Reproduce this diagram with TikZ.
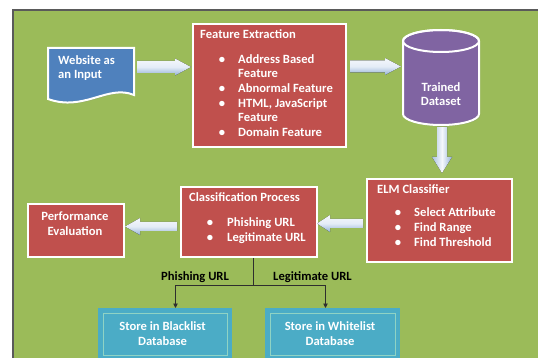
\documentclass[tikz,border=0pt]{standalone}
\usepackage{fontspec}
\setmainfont{Carlito}
\usetikzlibrary{shadows,arrows.meta,calc}

\definecolor{bggreen}{HTML}{9BBB59}
\definecolor{boxred}{HTML}{C0504D}
\definecolor{docblue}{HTML}{4F81BD}
\definecolor{dbpurple}{HTML}{8064A2}
\definecolor{storeteal}{HTML}{4BACC6}
\definecolor{storeline}{HTML}{8FD3C4}
\definecolor{arrowlight}{HTML}{E4ECF7}
\definecolor{arrowdark}{HTML}{95B3D7}
\definecolor{framegray}{HTML}{5A5A5A}
\definecolor{wiregray}{HTML}{2E2E2E}

\tikzset{
  panel/.style={draw=white, line width=2.2pt, fill=boxred, anchor=north west,
    inner sep=0pt, drop shadow={shadow xshift=1.2pt, shadow yshift=-1.2pt, opacity=0.3}},
  storebox/.style={draw=storeteal, line width=5pt, fill=storeteal, anchor=north west,
    inner sep=0pt, double=storeline, double distance=0.9pt},
  label/.style={text=white, inner sep=0pt, anchor=base west},
  centerlabel/.style={text=white, inner sep=0pt, align=center},
  dot/.style={text=white, inner sep=0pt, anchor=base},
  wirelabel/.style={text=black, inner sep=0pt, anchor=base west},
  flatarrow/.style={top color=white!60!arrowlight, bottom color=arrowdark, middle color=arrowlight},
  tallarrow/.style={left color=arrowdark!80!white, right color=arrowdark, middle color=white!60!arrowlight},
  dropwire/.style={draw=wiregray, line width=0.9pt},
  droparrow/.style={dropwire, -{Triangle[width=4.5pt,length=4.5pt]}, shorten >=2.5pt},
}

\begin{document}
\begin{tikzpicture}[x=1pt, y=-1pt, font=\bfseries\fontsize{12.6}{15}\selectfont]
\useasboundingbox (0,0) rectangle (538,358);
\fill[white] (0,0) rectangle (538,358);

% backdrop
\fill[bggreen] (13,10) rectangle (538,358);
\draw[framegray, line width=1.2pt] (13,358) -- (13,10) -- (538,10);

% input document with wavy bottom
\draw[draw=white, line width=2pt, fill=docblue,
      drop shadow={shadow xshift=1.2pt, shadow yshift=-1.2pt, opacity=0.3}]
  (48,48) -- (134,48) -- (134,95)
  .. controls (108,84) and (84,112) .. (48,99) -- cycle;
\node[label] (web1) at (58,65) {Website as};
\node[label] (web2) at (58,79) {an Input};

% feature extraction
\node[panel, minimum width=153pt, minimum height=123pt] (feat) at (192,23) {};
\node[label] (feattitle) at (200,39) {Feature Extraction};
\node[dot] (fd1) at (222,64) {•};
\node[label] (f1a) at (238,64) {Address Based};
\node[label] (f1b) at (238,78) {Feature};
\node[dot] (fd2) at (222,93) {•};
\node[label] (f2) at (238,93) {Abnormal Feature};
\node[dot] (fd3) at (222,108) {•};
\node[label] (f3a) at (238,108) {HTML, JavaScript};
\node[label] (f3b) at (238,122) {Feature};
\node[dot] (fd4) at (222,137) {•};
\node[label] (f4) at (238,137) {Domain Feature};

% trained dataset cylinder
\path[draw=white, line width=2pt, fill=dbpurple,
      drop shadow={shadow xshift=1.2pt, shadow yshift=-1.2pt, opacity=0.3}]
  (403,41) -- (403,114)
  arc[start angle=180, end angle=0, x radius=38, y radius=11]
  -- (479,41)
  arc[start angle=0, end angle=-180, x radius=38, y radius=11] -- cycle;
\draw[white, line width=2pt] (441,41) ellipse[x radius=38, y radius=11];
\node[centerlabel, font=\bfseries\fontsize{12.6}{13.5}\selectfont] (dataset) at (441,94) {Trained\\Dataset};

% ELM classifier
\node[panel, minimum width=145pt, minimum height=83pt] (elm) at (366,178) {};
\node[label] (elmtitle) at (377,194) {ELM Classifier};
\node[dot] (ed1) at (398,217) {•};
\node[label] (e1) at (414,217) {Select Attribute};
\node[dot] (ed2) at (398,232) {•};
\node[label] (e2) at (414,232) {Find Range};
\node[dot] (ed3) at (398,247) {•};
\node[label] (e3) at (414,247) {Find Threshold};

% classification process
\node[panel, minimum width=136pt, minimum height=70pt] (class) at (180,186) {};
\node[label] (classtitle) at (189,202) {Classification Process};
\node[dot] (cd1) at (210,226) {•};
\node[label] (c1) at (227,226) {Phishing URL};
\node[dot] (cd2) at (210,241) {•};
\node[label] (c2) at (227,241) {Legitimate URL};

% performance evaluation
\node[panel, minimum width=96pt, minimum height=53pt] (perf) at (27,203) {};
\node[centerlabel] (perftext) at (75,223.5) {Performance\\Evaluation};

% storage targets
\node[storebox, minimum width=124pt, minimum height=42pt] (black) at (100.5,310.5) {};
\node[centerlabel] (blacktext) at (162.5,333.5) {Store in Blacklist\\Database};
\node[storebox, minimum width=125pt, minimum height=42pt] (white) at (267.5,310.5) {};
\node[centerlabel] (whitetext) at (330,333.5) {Store in Whitelist\\Database};

% block arrows between stages
\fill[flatarrow] (137,61) -- (175,61) -- (175,58.5) -- (191,67)
  -- (175,75.5) -- (175,73) -- (137,73) -- cycle;
\fill[flatarrow] (350,60.5) -- (385,60.5) -- (385,58) -- (401,66.5)
  -- (385,75) -- (385,72.5) -- (350,72.5) -- cycle;
\fill[tallarrow] (437,127) -- (447,127) -- (447,157) -- (452,157) -- (442,173)
  -- (432,157) -- (437,157) -- cycle;
\fill[flatarrow] (363,219) -- (330,219) -- (330,215) -- (317,223.5)
  -- (330,232) -- (330,228) -- (363,228) -- cycle;
\fill[flatarrow] (177,222) -- (140,222) -- (140,218) -- (125,226.5)
  -- (140,235) -- (140,231) -- (177,231) -- cycle;

% split of the classification result
\coordinate (split) at (253,285);
\draw[dropwire] (class.south -| split) -- (split);
\draw[droparrow] (split) -| ([xshift=10.5pt]black.north);
\draw[droparrow] (split) -| ([xshift=-7pt]white.north);
\node[wirelabel] (phish) at (161,280) {Phishing URL};
\node[wirelabel] (legit) at (273,280) {Legitimate URL};
\end{tikzpicture}
\end{document}
